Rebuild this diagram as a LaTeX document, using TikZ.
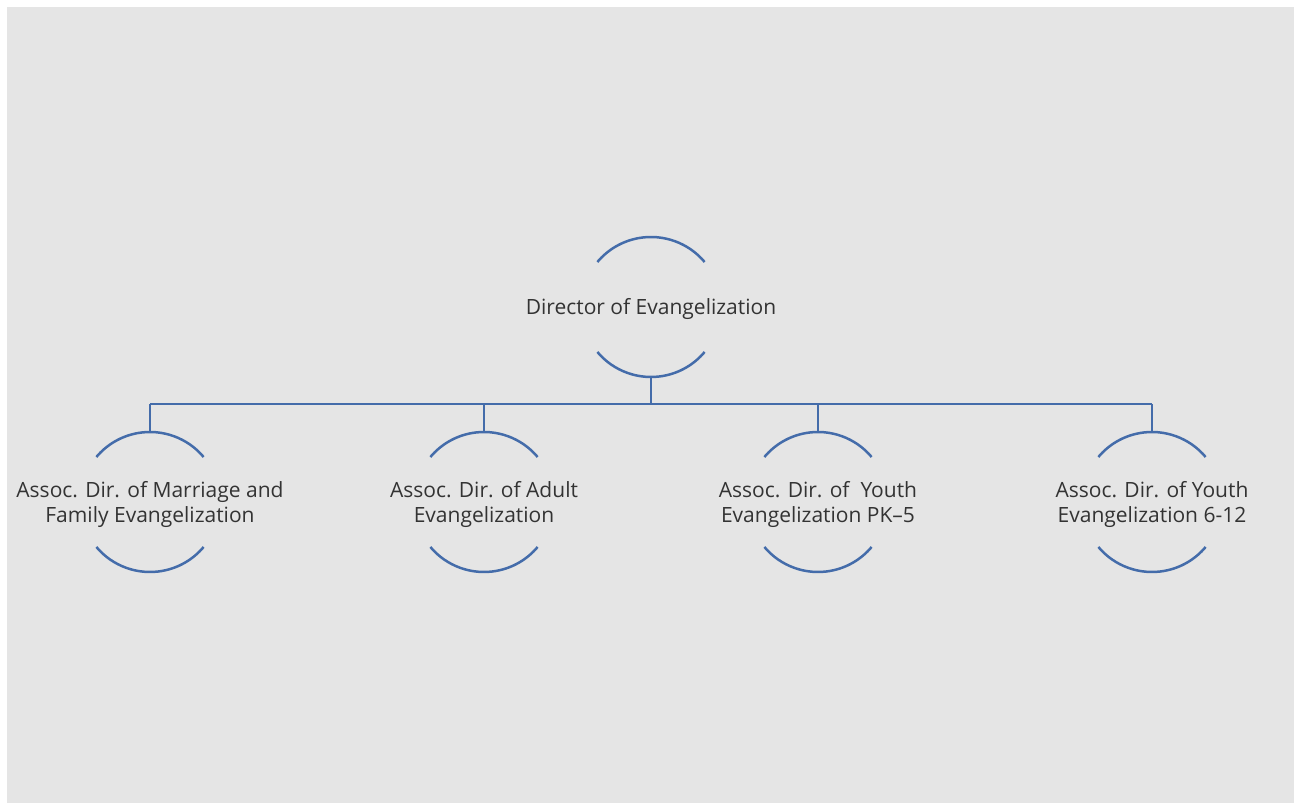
\documentclass[tikz,border=0pt]{standalone}
\usepackage{fontspec}
\setmainfont{Open Sans}
\usepackage{xcolor}
\definecolor{linkblue}{RGB}{68,108,170}
\definecolor{bggray}{RGB}{229,229,229}
\definecolor{txtgray}{RGB}{51,51,51}

\tikzset{
    role/.style={inner sep=0pt, align=center,
        text=txtgray, font=\fontsize{21}{25}\selectfont},
    rim/.style={linkblue, line width=2.5pt},
    link/.style={linkblue, line width=2.8pt}
}

\begin{document}
\begin{tikzpicture}[x=1pt, y=1pt]
        % Hintergrund
        \useasboundingbox (0,0) rectangle (1294,803);
        \fill[bggray] (7,0) rectangle (1294,796);
        % Kreismitten
        \coordinate (cdir) at (651,496);
        \coordinate (cmar) at (150,301);
        \coordinate (cadu) at (484,301);
        \coordinate (cpk) at (818,301);
        \coordinate (chs) at (1152,301);
        % Knoten
        \node[role] (dir) at ([yshift=-2pt]cdir) {Director of Evangelization};
        \node[role] (mar) at ([yshift=-2pt]cmar) {Assoc. Dir. of Marriage and\\Family Evangelization};
        \node[role] (adu) at ([yshift=-2pt]cadu) {Assoc. Dir. of Adult\\Evangelization};
        \node[role] (pk) at ([yshift=-2pt]cpk) {Assoc. Dir. of\ \ Youth\\Evangelization PK--5};
        \node[role] (hs) at ([yshift=-2pt]chs) {Assoc. Dir. of Youth\\Evangelization 6-12};
        % Kreisbögen
        \foreach \n in {dir,mar,adu,pk,hs} {
            \draw[rim] (c\n) ++(40:70pt) arc[start angle=40,end angle=140,radius=70pt];
            \draw[rim] (c\n) ++(220:70pt) arc[start angle=220,end angle=320,radius=70pt];
        }
        % Verbindungen
        \coordinate (bar) at (651,399);
        \draw[link] (cdir) ++(0,-70pt) -- (bar);
        \foreach \n in {mar,adu,pk,hs}
            \draw[link] (c\n) ++(0,70pt) -- (c\n |- bar);
        \draw[link] (cmar |- bar) -- (chs |- bar);
\end{tikzpicture}
\end{document}
